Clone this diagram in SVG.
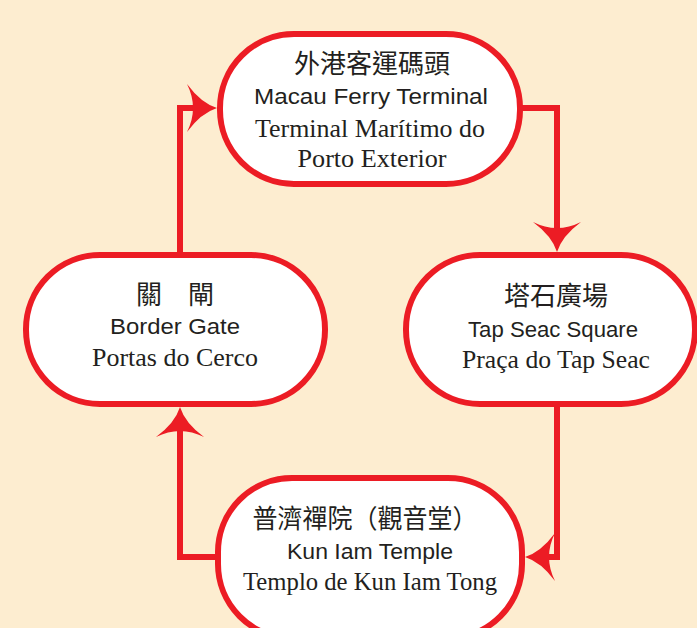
<svg xmlns="http://www.w3.org/2000/svg" xmlns:xlink="http://www.w3.org/1999/xlink" width="697" height="628" viewBox="0 0 697 628">
<style>
.node{fill:#ffffff;stroke:#ec1c24;stroke-width:6}
.conn{fill:none;stroke:#ec1c24;stroke-width:6;stroke-linejoin:miter}
.ah{fill:#ec1c24}
text{fill:#231f20;text-anchor:middle}
.zh{font-family:"Noto Sans CJK TC","Noto Sans CJK SC",sans-serif;font-size:26px}
.en{font-family:"Liberation Sans",Arial,sans-serif;font-size:22px}
.pt{font-family:"Liberation Serif","Times New Roman",serif;font-size:25px}
</style>
<defs>
<path id="arrow" d="M0,0 Q-16,-5 -30,-24 Q-24,-12 -24,0 Q-24,12 -30,24 Q-16,5 0,0Z"/>
</defs>
<rect width="697" height="628" fill="#fdedd0"/>
<g id="connectors">
<path class="conn" d="M180,255 V108 H195"/>
<use href="#arrow" class="ah" transform="translate(217,108)"/>
<path class="conn" d="M520,108 H557 V230"/>
<use href="#arrow" class="ah" transform="translate(557,252) rotate(90)"/>
<path class="conn" d="M557,404 V557 H545"/>
<use href="#arrow" class="ah" transform="translate(525,557) rotate(180)"/>
<path class="conn" d="M218,557 H180 V430"/>
<use href="#arrow" class="ah" transform="translate(180,407) rotate(-90)"/>
</g>
<g id="node-ferry">
<rect class="node" x="220" y="34" width="300" height="150" rx="74" ry="74"/>
<text class="zh" x="372" y="73">外港客運碼頭</text>
<text class="en" x="371" y="104" textLength="234" lengthAdjust="spacingAndGlyphs">Macau Ferry Terminal</text>
<text class="pt" x="370" y="137" textLength="230" lengthAdjust="spacingAndGlyphs">Terminal Marítimo do</text>
<text class="pt" x="372" y="167" textLength="149" lengthAdjust="spacingAndGlyphs">Porto Exterior</text>
</g>
<g id="node-tapseac">
<rect class="node" x="406" y="255" width="289" height="149" rx="74" ry="74"/>
<text class="zh" x="556" y="305">塔石廣場</text>
<text class="en" x="553" y="337" textLength="170" lengthAdjust="spacingAndGlyphs">Tap Seac Square</text>
<text class="pt" x="556" y="368" textLength="188" lengthAdjust="spacingAndGlyphs">Praça do Tap Seac</text>
</g>
<g id="node-border">
<rect class="node" x="26" y="255" width="299" height="149" rx="74" ry="74"/>
<text class="zh" x="175" y="304">關　閘</text>
<text class="en" x="175" y="334" textLength="130" lengthAdjust="spacingAndGlyphs">Border Gate</text>
<text class="pt" x="175" y="366" textLength="166" lengthAdjust="spacingAndGlyphs">Portas do Cerco</text>
</g>
<g id="node-kuniam">
<rect class="node" x="218" y="478" width="304" height="160" rx="74" ry="74"/>
<text class="zh" x="365" y="528" textLength="225" lengthAdjust="spacingAndGlyphs">普濟禪院（觀音堂）</text>
<text class="en" x="370" y="559" textLength="166" lengthAdjust="spacingAndGlyphs">Kun Iam Temple</text>
<text class="pt" x="370" y="590" textLength="254" lengthAdjust="spacingAndGlyphs">Templo de Kun Iam Tong</text>
</g>
</svg>
